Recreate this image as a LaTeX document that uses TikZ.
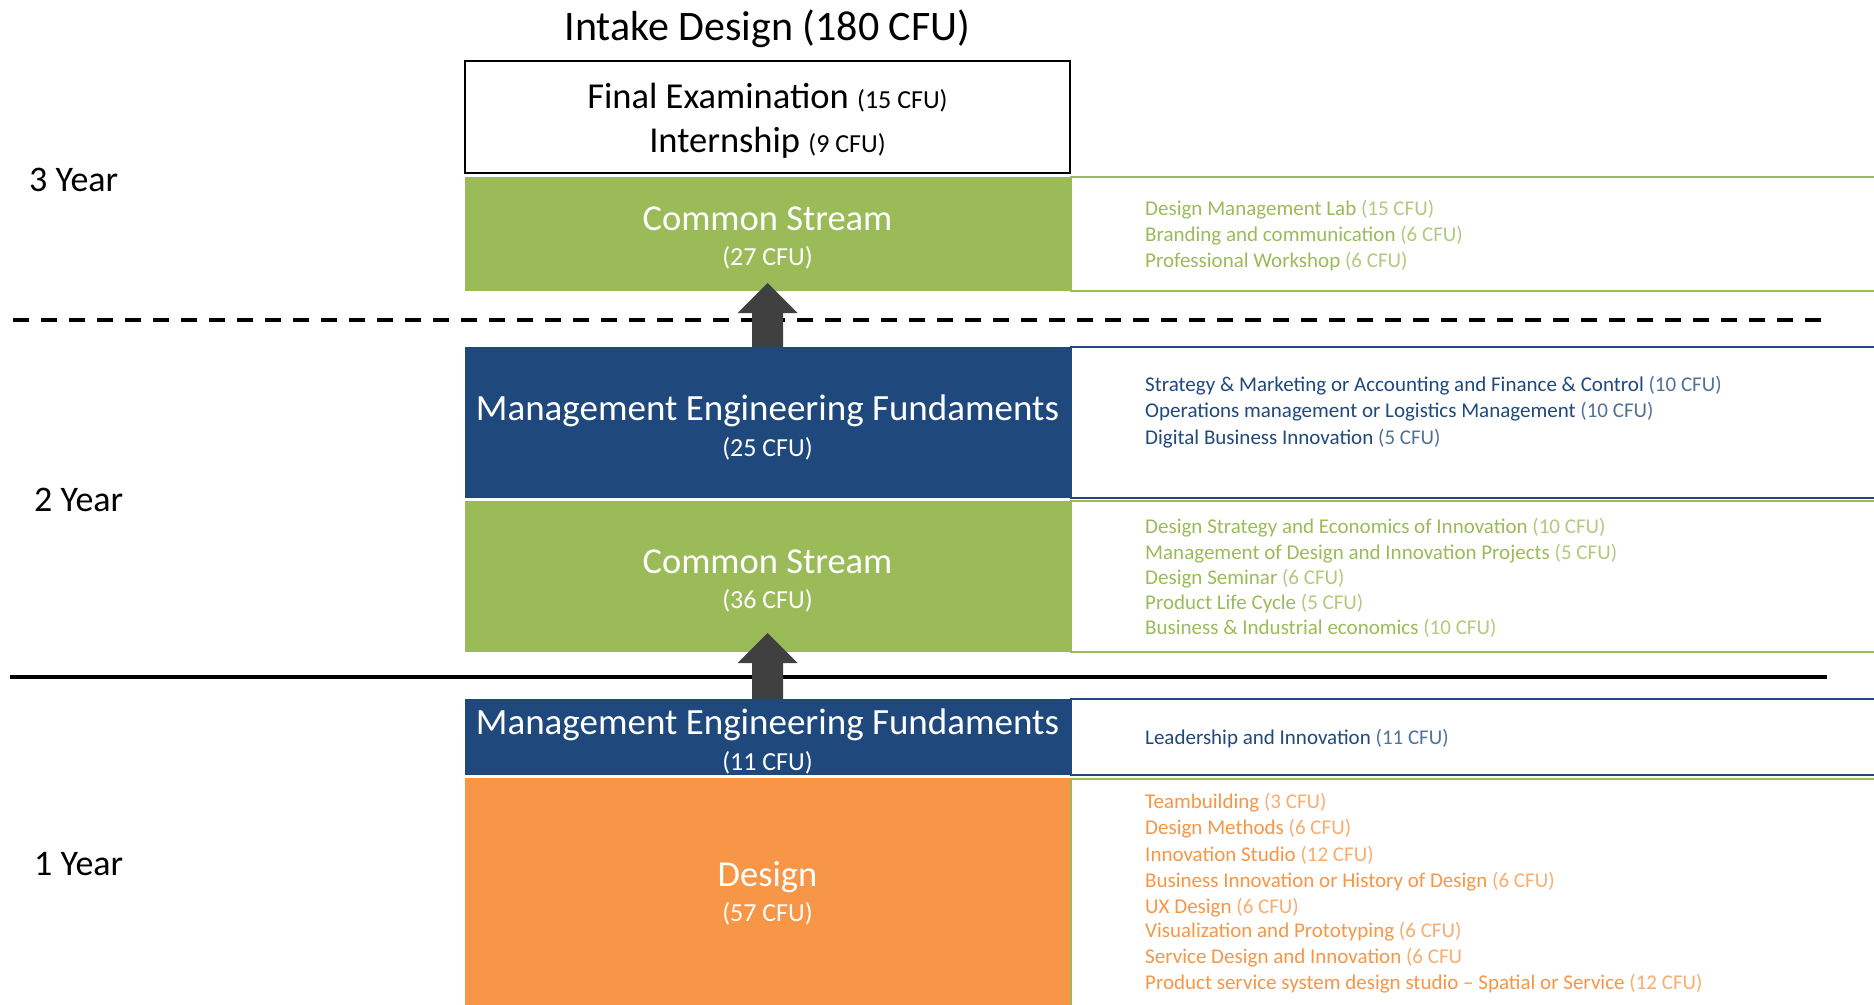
\documentclass[tikz,border=0pt]{standalone}
\usepackage{fontspec}
\setmainfont{Carlito}
\usetikzlibrary{calc}
\definecolor{cgreen}{HTML}{9BBB59}
\definecolor{cblue}{HTML}{1F497D}
\definecolor{corange}{HTML}{F79646}
\definecolor{carrow}{HTML}{404040}
\newcommand{\myfs}[1]{\fontsize{#1}{#1}\selectfont}
\newcommand{\lightpart}[1]{{\color{.!78!white}#1}}
\tikzset{
  band/.style={rectangle, inner sep=0pt, outer sep=0pt, minimum width=605pt},
  boxtitle/.style={anchor=base, text=white, font=\myfs{36.5}, inner sep=0pt},
  boxcfu/.style={anchor=base, text=white, font=\myfs{26}, inner sep=0pt},
  yearlbl/.style={anchor=base west, font=\myfs{36}, inner sep=0pt},
  item/.style={anchor=base west, font=\myfs{21}, inner sep=0pt},
  outl/.style={line width=2.5pt},
  uparrow/.style={fill=carrow},
}
\begin{document}
\begin{tikzpicture}[x=1pt,y=-1pt]
\useasboundingbox (0,0) rectangle (1874,1004);
\fill[white] (0,0) rectangle (1874,1004);
\clip (0,0) rectangle (1874,1004);

% title
\node[anchor=base, font=\myfs{42}, inner sep=0pt] (title) at (767.5,40) {Intake Design (180 CFU)};

% main bands
\node[band, draw=black, line width=2pt, fill=white, minimum height=112pt] (fin) at (767.5,117) {};
\node[band, fill=cgreen, minimum height=114pt] (cs3) at (767.5,234) {};
\node[band, fill=cblue, minimum height=151pt] (mef2) at (767.5,422.5) {};
\node[band, fill=cgreen, minimum height=151pt] (cs2) at (767.5,576.5) {};
\node[band, fill=cblue, minimum height=76pt] (mef1) at (767.5,737) {};
\node[band, fill=corange, minimum height=232pt] (des) at (767.5,894) {};

% right outline boxes
\draw[outl, cgreen] ($(cs3.north east)+(1,0)$) rectangle ($(cs3.south east)+(830,0)$);
\draw[outl, cblue] ($(mef2.north east)+(1,0)$) rectangle ($(mef2.south east)+(830,0)$);
\draw[outl, cgreen] ($(cs2.north east)+(1,0)$) rectangle ($(cs2.south east)+(830,0)$);
\draw[outl, cblue] ($(mef1.north east)+(1,0)$) rectangle ($(mef1.south east)+(830,0)$);
\draw[outl, cgreen] ($(des.north east)+(1,1)$) rectangle ($(des.south east)+(830,0)$);

% separator lines
\coordinate (d1) at (13,320);
\coordinate (d2) at (1821,320);
\coordinate (s1) at (10,677);
\coordinate (s2) at (1827,677);
\draw[line width=4pt, dash pattern=on 16pt off 12pt] (d1) -- (d2);
\draw[line width=4pt] (s1) -- (s2);

% arrows
\fill[uparrow] ($(mef2.north)+(-15.5,0)$) -- ($(mef2.north)+(-15.5,-34)$) -- ($(mef2.north)+(-30,-34)$)
  -- ($(mef2.north)+(0,-64)$) -- ($(mef2.north)+(30,-34)$) -- ($(mef2.north)+(15.5,-34)$)
  -- ($(mef2.north)+(15.5,0)$) -- cycle;
\fill[uparrow] ($(mef1.north)+(-15.5,0)$) -- ($(mef1.north)+(-15.5,-36)$) -- ($(mef1.north)+(-30,-36)$)
  -- ($(mef1.north)+(0,-66)$) -- ($(mef1.north)+(30,-36)$) -- ($(mef1.north)+(15.5,-36)$)
  -- ($(mef1.north)+(15.5,0)$) -- cycle;

% band texts
\node[anchor=base, inner sep=0pt] (finA) at (767.5,108) {\myfs{36.5}Final Examination \myfs{26}(15 CFU)};
\node[anchor=base, inner sep=0pt] (finB) at (767.5,152) {\myfs{36.5}Internship \myfs{26}(9 CFU)};
\node[boxtitle] (cs3a) at (767.5,230) {Common Stream};
\node[boxcfu] (cs3b) at (767.5,265) {(27 CFU)};
\node[boxtitle, font=\myfs{37}] (mef2a) at (767.5,420) {Management Engineering Fundaments};
\node[boxcfu] (mef2b) at (767.5,456) {(25 CFU)};
\node[boxtitle] (cs2a) at (767.5,573) {Common Stream};
\node[boxcfu] (cs2b) at (767.5,608) {(36 CFU)};
\node[boxtitle, font=\myfs{37}] (mef1a) at (767.5,734) {Management Engineering Fundaments};
\node[boxcfu] (mef1b) at (767.5,770) {(11 CFU)};
\node[boxtitle] (desa) at (767.5,886) {Design};
\node[boxcfu] (desb) at (767.5,921) {(57 CFU)};

% year labels
\node[yearlbl] (y3) at (29,191) {3 Year};
\node[yearlbl] (y2) at (34,511) {2 Year};
\node[yearlbl] (y1) at (34,875) {1 Year};

% right items
\begin{scope}[every node/.append style={item}]
\node[text=cgreen] (a1) at (1145,215) {Design Management Lab \lightpart{(15 CFU)}};
\node[text=cgreen] (a2) at (1145,241) {Branding and communication \lightpart{(6 CFU)}};
\node[text=cgreen] (a3) at (1145,267) {Professional Workshop \lightpart{(6 CFU)}};
\node[text=cblue] (b1) at (1145,391) {Strategy \& Marketing or Accounting and Finance \& Control \lightpart{(10 CFU)}};
\node[text=cblue] (b2) at (1145,417) {Operations management or Logistics Management \lightpart{(10 CFU)}};
\node[text=cblue] (b3) at (1145,444) {Digital Business Innovation \lightpart{(5 CFU)}};
\node[text=cgreen] (c1) at (1145,533) {Design Strategy and Economics of Innovation \lightpart{(10 CFU)}};
\node[text=cgreen] (c2) at (1145,559) {Management of Design and Innovation Projects \lightpart{(5 CFU)}};
\node[text=cgreen] (c3) at (1145,584) {Design Seminar \lightpart{(6 CFU)}};
\node[text=cgreen] (c4) at (1145,609) {Product Life Cycle \lightpart{(5 CFU)}};
\node[text=cgreen] (c5) at (1145,634) {Business \& Industrial economics \lightpart{(10 CFU)}};
\node[text=cblue] (d1t) at (1145,744) {Leadership and Innovation \lightpart{(11 CFU)}};
\node[text=corange] (e1) at (1145,808) {Teambuilding \lightpart{(3 CFU)}};
\node[text=corange] (e2) at (1145,834) {Design Methods \lightpart{(6 CFU)}};
\node[text=corange] (e3) at (1145,861) {Innovation Studio \lightpart{(12 CFU)}};
\node[text=corange] (e4) at (1145,887) {Business Innovation or History of Design \lightpart{(6 CFU)}};
\node[text=corange] (e5) at (1145,913) {UX Design \lightpart{(6 CFU)}};
\node[text=corange] (e6) at (1145,937) {Visualization and Prototyping \lightpart{(6 CFU)}};
\node[text=corange] (e7) at (1145,963) {Service Design and Innovation \lightpart{(6 CFU}};
\node[text=corange] (e8) at (1145,989) {Product service system design studio – Spatial or Service \lightpart{(12 CFU)}};
\end{scope}
\end{tikzpicture}
\end{document}
